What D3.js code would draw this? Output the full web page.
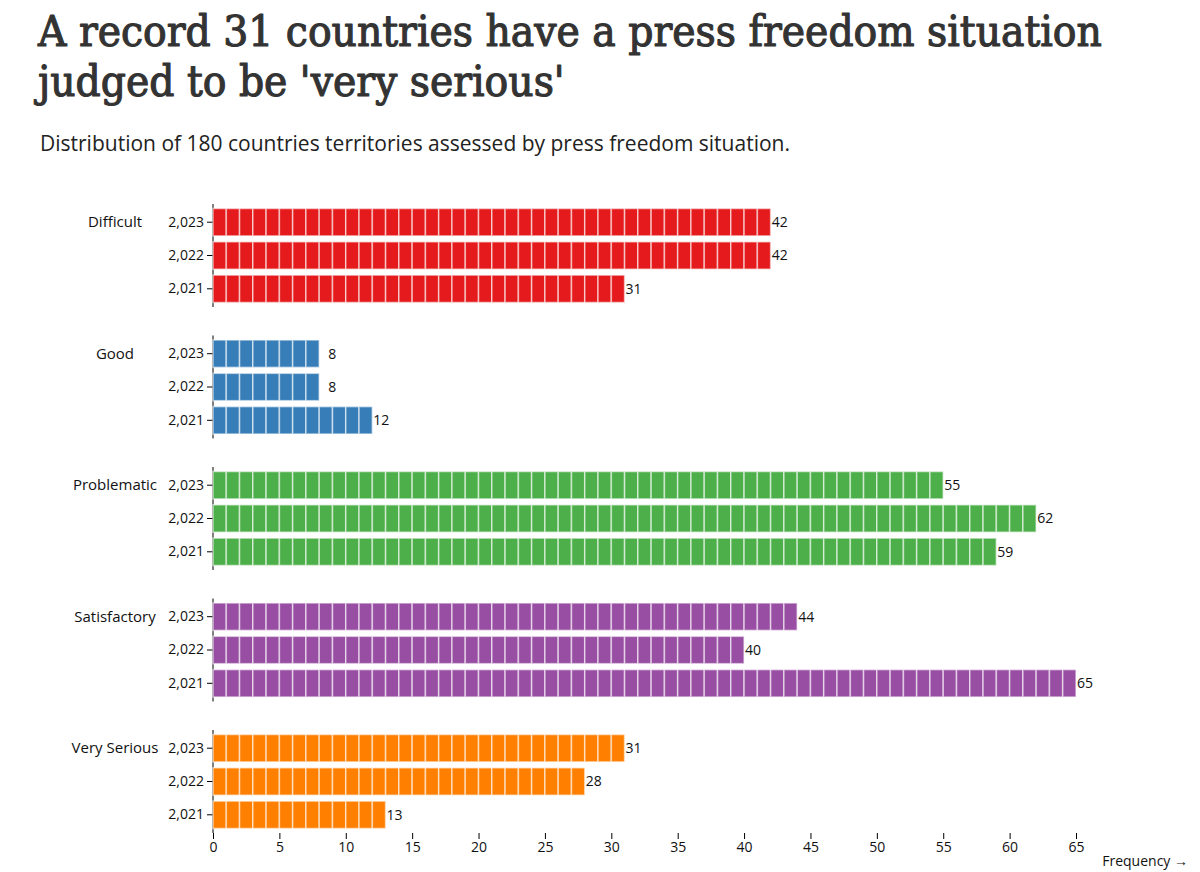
<!DOCTYPE html>
<html>
<head>
<meta charset="utf-8">
<script src="https://cdn.jsdelivr.net/npm/d3@7"></script>
<style>
  html, body { margin: 0; padding: 0; background: #fff; }
  svg { display: block; }
</style>
</head>
<body>
<svg id="chart" width="1200" height="872"></svg>
<script>
// ---- data ----
const categories = ["Difficult", "Good", "Problematic", "Satisfactory", "Very Serious"];
const years = [2023, 2022, 2021];
const difficult = [42, 42, 31];
const good = [8, 8, 12];
const problematic = [55, 62, 59];
const satisfactory = [44, 40, 65];
const verySerious = [31, 28, 13];
const xTicks = [0, 5, 10, 15, 20, 25, 30, 35, 40, 45, 50, 55, 60, 65];
const palette = ["#e41a1c", "#377eb8", "#4daf4a", "#984ea3", "#ff7f00"];
const titleLines = ["A record 31 countries have a press freedom situation", "judged to be 'very serious'"];
const subtitle = "Distribution of 180 countries territories assessed by press freedom situation.";
const xLabel = "Frequency \u2192";

const seriesValues = [difficult, good, problematic, satisfactory, verySerious];

// ---- layout ----
const svg = d3.select("#chart");
const sans = "'Open Sans', 'Noto Sans', sans-serif";

const x = d3.scaleLinear().domain([0, 65]).range([213, 1076]);
const fy = d3.scaleBand().domain(categories).range([204, 204 + 4 * 131.5 + 103]).paddingInner(28.5 / 131.5).paddingOuter(0);
const y = d3.scaleBand().domain(years).range([0, fy.bandwidth()]).paddingInner(0.177).paddingOuter(0.135);
const color = d3.scaleOrdinal().domain(categories).range(palette);

// title
const title = svg.append("g");
titleLines.forEach((t, i) => {
  title.append("text")
    .attr("x", 38).attr("y", 46 + i * 49.5)
    .attr("font-family", "'DejaVu Serif Condensed', 'DejaVu Serif', serif")
    .attr("font-size", 44)
    .attr("fill", "#333")
    .attr("stroke", "#333")
    .attr("stroke-width", 1.1)
    .attr("stroke-linejoin", "round")
    .text(t);
});
// fit first line width to ~1065px
const t0 = title.select("text").node();
const w0 = t0.getComputedTextLength();
const scaleF = 1064 / w0;
title.selectAll("text").attr("font-size", 44 * Math.min(1.15, Math.max(0.8, scaleF)));

svg.append("text")
  .attr("x", 40).attr("y", 151)
  .attr("font-family", sans).attr("font-size", 21).attr("fill", "#222")
  .text(subtitle);

// facets
categories.forEach((cat, ci) => {
  const g = svg.append("g").attr("transform", `translate(0,${fy(cat)})`);
  const vals = seriesValues[ci];

  // y axis
  const yAxis = d3.axisLeft(y).tickFormat(d3.format(",")).tickSize(6).tickPadding(3);
  const ga = g.append("g").attr("transform", `translate(${x(0)},0)`).call(yAxis);
  ga.select(".domain").attr("d", `M0,0V${fy.bandwidth()}`).attr("stroke", "#000");
  ga.selectAll("text").attr("font-family", sans).attr("font-size", 14).attr("fill", "#111");

  // facet label
  g.append("text")
    .attr("x", 115).attr("y", y(years[0]) + y.bandwidth() / 2)
    .attr("text-anchor", "middle").attr("dy", "0.35em")
    .attr("font-family", sans).attr("font-size", 15).attr("fill", "#111")
    .text(cat);

  years.forEach((yr, yi) => {
    const v = vals[yi];
    const units = d3.range(v);
    g.append("g").selectAll("rect").data(units).join("rect")
      .attr("x", d => x(d))
      .attr("y", y(yr))
      .attr("width", d => x(d + 1) - x(d))
      .attr("height", y.bandwidth())
      .attr("fill", color(cat))
      .attr("stroke", "#fff")
      .attr("stroke-opacity", 0.55)
      .attr("stroke-width", 1.6);
    g.append("text")
      .attr("x", x(v) + (v < 10 ? 9 : 1))
      .attr("y", y(yr) + y.bandwidth() / 2)
      .attr("dy", "0.35em")
      .attr("font-family", sans).attr("font-size", 14).attr("fill", "#111")
      .text(v);
  });
});

// x axis
const xAxis = d3.axisBottom(x).tickValues(xTicks).tickSize(6).tickPadding(3);
const gx = svg.append("g").attr("transform", `translate(0,833)`).call(xAxis);
gx.select(".domain").remove();
gx.selectAll("text").attr("font-family", sans).attr("font-size", 14).attr("fill", "#111");

svg.append("text")
  .attr("x", 1188).attr("y", 866)
  .attr("text-anchor", "end")
  .attr("font-family", sans).attr("font-size", 14).attr("fill", "#111")
  .text(xLabel);
</script>
</body>
</html>
